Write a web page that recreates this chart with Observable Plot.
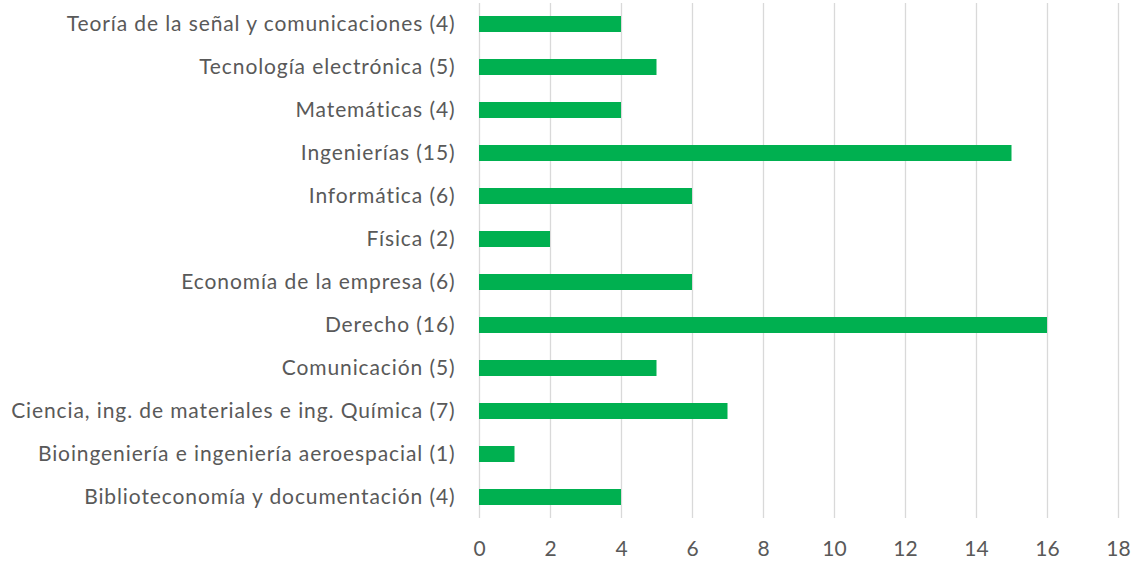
<!DOCTYPE html>
<html>
<head>
<meta charset="utf-8">
<script src="https://cdn.jsdelivr.net/npm/d3@7"></script>
<script src="https://cdn.jsdelivr.net/npm/@observablehq/plot@0.6"></script>
<style>
  html, body { margin: 0; padding: 0; background: #fff; }
  #chart svg { display: block; }
  .ylab text { letter-spacing: 0.9px; }
</style>
</head>
<body>
<div id="chart"></div>
<script>
const categories = [
  "Teoría de la señal y comunicaciones (4)",
  "Tecnología electrónica (5)",
  "Matemáticas (4)",
  "Ingenierías (15)",
  "Informática (6)",
  "Física (2)",
  "Economía de la empresa (6)",
  "Derecho (16)",
  "Comunicación (5)",
  "Ciencia, ing. de materiales e ing. Química (7)",
  "Bioingeniería e ingeniería aeroespacial (1)",
  "Biblioteconomía y documentación (4)"
];
const values = [4, 5, 4, 15, 6, 2, 6, 16, 5, 7, 1, 4];
const xTicks = [0, 2, 4, 6, 8, 10, 12, 14, 16, 18];

const data = categories.map((c, i) => ({category: c, value: values[i]}));

const chart = Plot.plot({
  width: 1138,
  height: 566,
  marginLeft: 479,
  marginRight: 20,
  marginTop: 3,
  marginBottom: 48,
  style: {fontFamily: "Lato, sans-serif", fontSize: "21px", color: "#595959", background: "#fff"},
  x: {domain: [0, 18], ticks: xTicks, label: null},
  y: {domain: categories, label: null, paddingInner: 0.63, paddingOuter: 0.3},
  marks: [
    Plot.gridX(xTicks, {stroke: "#d9d9d9", strokeOpacity: 1, strokeWidth: 1.3}),
    Plot.barX(data, {x: "value", y: "category", fill: "#00b050"}),
    Plot.axisX({ticks: xTicks, tickSize: 0, tickPadding: 23, label: null, fill: "#595959"}),
    Plot.axisY({tickSize: 0, tickPadding: 24, label: null, fill: "#595959", className: "ylab"})
  ]
});
document.getElementById("chart").appendChild(chart);
</script>
</body>
</html>
